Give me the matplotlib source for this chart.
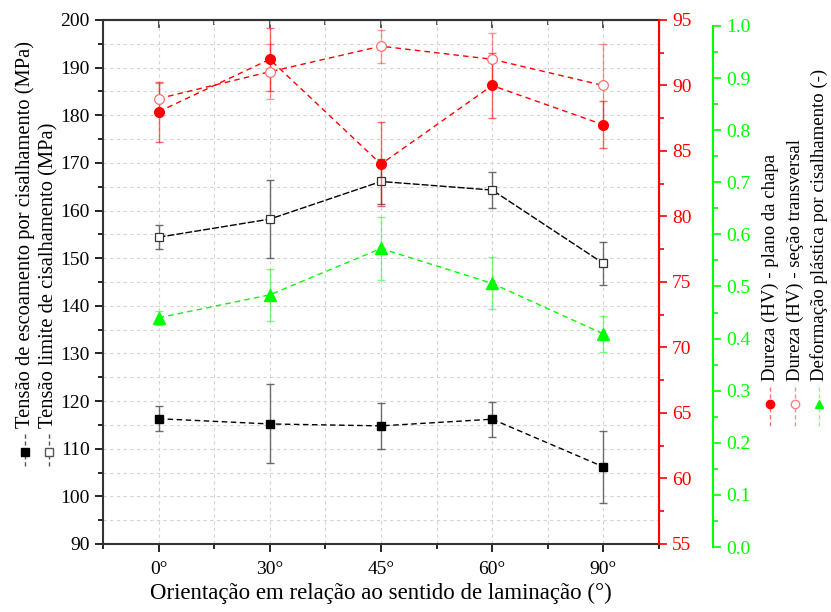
import matplotlib
matplotlib.use('Agg')
import matplotlib.pyplot as plt
from matplotlib.lines import Line2D
from matplotlib.ticker import MultipleLocator, FixedLocator, FormatStrFormatter
import numpy as np

plt.rcParams['font.family'] = ['Liberation Serif', 'DejaVu Serif']

# dados
angulos = ['0°', '30°', '45°', '60°', '90°']
escoamento = [116.3, 115.2, 114.8, 116.2, 106.2]
escoamento_err = [2.6, 8.3, 4.8, 3.7, 7.5]
limite = [154.4, 158.2, 166.1, 164.3, 148.9]
limite_err = [2.5, 8.2, 4.8, 3.7, 4.5]
dureza_plano = [88.0, 92.0, 84.0, 90.0, 87.0]
dureza_plano_err = [2.3, 2.4, 3.2, 2.45, 1.8]
dureza_secao = [89.0, 91.05, 93.0, 92.0, 90.0]
dureza_secao_err = [1.2, 2.1, 1.25, 2.0, 3.2]
deformacao = [0.44, 0.484, 0.573, 0.506, 0.409]
deformacao_err = [0.013, 0.05, 0.06, 0.05, 0.034]

W, H = 831, 612
x = np.arange(len(angulos))
RED = '#ff0000'
GREEN = '#00ff00'


def fx(px):
    return px / W


def fy(py):
    return 1 - py / H


fig = plt.figure(figsize=(W / 100, H / 100), dpi=100)
ax = fig.add_axes([fx(103), fy(544), (659 - 103) / W, (544 - 20) / H])
ax2 = ax.twinx()
ax3 = fig.add_axes([fx(103), fy(547), (659 - 103) / W, (547 - 26) / H])

# eixo principal (MPa)
ax.errorbar(x, escoamento, yerr=escoamento_err, fmt='none', ecolor='#555555',
            elinewidth=1, capsize=3, capthick=1, alpha=0.85)
ax.errorbar(x, limite, yerr=limite_err, fmt='none', ecolor='#555555',
            elinewidth=1, capsize=3, capthick=1, alpha=0.85)
ax.plot(x, escoamento, color='black', ls=(0, (4, 2.5)), lw=1, marker='s', ms=6,
        mfc='black', mec='black')
ax.plot(x, limite, color='black', ls=(0, (5, 1.5)), lw=1, marker='s', ms=6,
        mfc='white', mec='#333333', mew=0.9)
ax.set_xlim(-0.5, 4.5)
ax.set_ylim(90, 200)
ax.xaxis.set_major_locator(FixedLocator(x))
ax.xaxis.set_minor_locator(MultipleLocator(0.5))
ax.set_xticklabels(angulos)
ax.yaxis.set_major_locator(MultipleLocator(10))
ax.yaxis.set_minor_locator(MultipleLocator(5))
ax.grid(which='both', color='#d4d4d4', ls=(0, (3, 3)), lw=0.8)
ax.set_axisbelow(True)
ax.tick_params(axis='both', which='major', length=6, width=1.2, labelsize=14, colors='black')
ax.tick_params(axis='both', which='minor', length=3.5, width=1.2)
ax.tick_params(axis='x', pad=6)
for s in ['left', 'bottom', 'top']:
    ax.spines[s].set_linewidth(1.5)
    ax.spines[s].set_color('#333333')
ax.set_xlabel('Orientação em relação ao sentido de laminação (°)', fontsize=16.5, labelpad=4)

top = ax.secondary_xaxis('top')
top.xaxis.set_major_locator(FixedLocator(x))
top.xaxis.set_minor_locator(MultipleLocator(0.5))
top.tick_params(which='both', direction='in', labeltop=False, width=1.2, color='#333333')
top.tick_params(which='major', length=6)
top.tick_params(which='minor', length=3.5)
top.spines['top'].set_linewidth(1.5)
top.spines['top'].set_color('#333333')

# dureza (eixo vermelho)
ax2.errorbar(x, dureza_secao, yerr=dureza_secao_err, fmt='none', ecolor=RED,
             elinewidth=1, capsize=3, capthick=1, alpha=0.4)
ax2.errorbar(x, dureza_plano, yerr=dureza_plano_err, fmt='none', ecolor=RED,
             elinewidth=1, capsize=3, capthick=1, alpha=0.6)
ax2.plot(x, dureza_secao, color=RED, ls=(0, (4, 3)), lw=1, marker='o', ms=7,
         mfc='white', mec='#ff7070', mew=0.9)
ax2.plot(x, dureza_plano, color=RED, ls=(0, (4, 3)), lw=1, marker='o', ms=7,
         mfc=RED, mec=RED)
ax2.set_ylim(55, 95)
ax2.yaxis.set_major_locator(MultipleLocator(5))
ax2.yaxis.set_minor_locator(MultipleLocator(2.5))
ax2.tick_params(axis='y', which='major', length=6, width=1.2, colors=RED, labelsize=14)
ax2.tick_params(axis='y', which='minor', length=3.5, width=1.2, colors=RED)
ax2.spines['right'].set_color(RED)
ax2.spines['right'].set_linewidth(1.5)
for s in ['left', 'bottom', 'top']:
    ax2.spines[s].set_visible(False)

# deformação (eixo verde)
ax3.patch.set_visible(False)
ax3.errorbar(x, deformacao, yerr=deformacao_err, fmt='none', ecolor=GREEN,
             elinewidth=1, capsize=3, capthick=1, alpha=0.5)
ax3.plot(x, deformacao, color=GREEN, ls=(0, (4, 3)), lw=1, marker='^', ms=8,
         mfc=GREEN, mec=GREEN)
ax3.set_xlim(-0.5, 4.5)
ax3.set_ylim(0, 1.0)
ax3.xaxis.set_visible(False)
ax3.yaxis.tick_right()
ax3.yaxis.set_major_locator(MultipleLocator(0.1))
ax3.yaxis.set_minor_locator(MultipleLocator(0.05))
ax3.yaxis.set_major_formatter(FormatStrFormatter('%.1f'))
ax3.tick_params(axis='y', which='major', length=6, width=1.2, colors=GREEN, labelsize=14)
ax3.tick_params(axis='y', which='minor', length=3.5, width=1.2, colors=GREEN)
for s in ['left', 'bottom', 'top']:
    ax3.spines[s].set_visible(False)
ax3.spines['right'].set_position(('axes', (713 - 103) / (659 - 103)))
ax3.spines['right'].set_color(GREEN)
ax3.spines['right'].set_linewidth(1.5)

# legendas verticais


def entrada(px, y_txt, y1, y2, ym, texto, cor, marker, mfc, mec, ls, fs):
    fig.add_artist(Line2D([fx(px), fx(px)], [fy(y1), fy(y2)], color=cor, ls=ls, lw=1,
                          transform=fig.transFigure))
    fig.add_artist(Line2D([fx(px)], [fy(ym)], marker=marker, ms=6, mfc=mfc, mec=mec,
                          ls='none', transform=fig.transFigure))
    fig.text(fx(px), fy(y_txt), texto, rotation=90, ha='center', va='bottom',
             fontsize=fs, color='black')


entrada(25, 428, 434, 466, 452, 'Tensão de escoamento por cisalhamento (MPa)',
        '#555555', 's', 'black', 'black', (0, (3, 2)), 14.8)
entrada(49, 428, 434, 466, 452, 'Tensão limite de cisalhamento (MPa)',
        '#555555', 's', 'white', '#555555', (0, (3, 2)), 14.8)
entrada(770, 381, 387, 428, 404, 'Dureza (HV) - plano da chapa',
        '#ff7070', 'o', RED, RED, (0, (3, 2)), 13.5)
entrada(795, 381, 387, 428, 404, 'Dureza (HV) - seção transversal',
        '#ff9090', 'o', 'white', '#ff8080', (0, (3, 2)), 13.5)
entrada(819, 381, 387, 428, 404, 'Deformação plástica por cisalhamento (-)',
        '#80ff80', '^', GREEN, GREEN, (0, (3, 2)), 13.5)

plt.savefig('out.png', dpi=100)
